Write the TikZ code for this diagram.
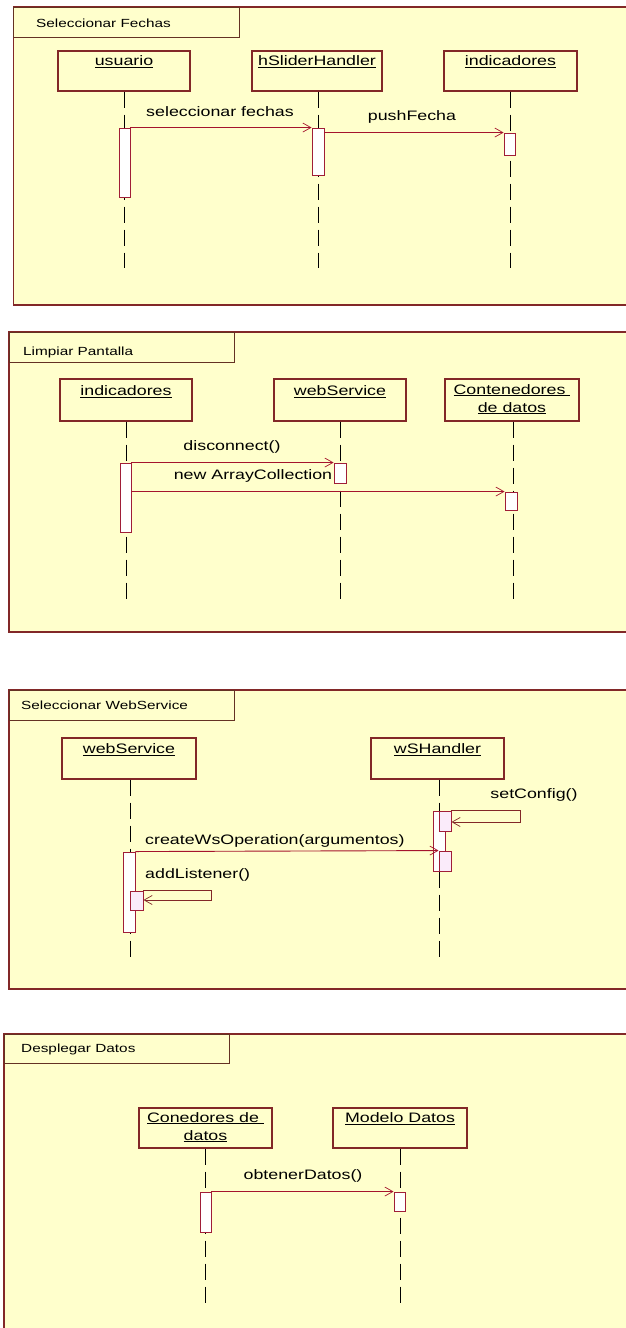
\documentclass[tikz,border=0pt]{standalone}
\usepackage{fontspec}
\setmainfont{Liberation Sans}
\usepackage{graphicx}
\usetikzlibrary{arrows.meta}
\definecolor{panelfill}{RGB}{255,255,204}
\definecolor{frm}{RGB}{130,40,40}
\definecolor{tabc}{RGB}{100,50,35}
\definecolor{msgc}{RGB}{165,20,45}
\definecolor{actc}{RGB}{160,30,55}
\newcommand{\stx}[1]{\scalebox{1.3}[1]{#1}}
\begin{document}
\begin{tikzpicture}[x=1pt,y=-1pt,
 panel/.style={draw=frm, line width=1.2pt, fill=panelfill},
 tabbox/.style={draw=tabc, line width=1pt},
 objbox/.style={draw=frm, line width=1.1pt, rectangle, inner sep=0pt, minimum height=41pt},
 objlbl/.style={font=\fontsize{13.7}{18}\selectfont, align=center, inner sep=0pt},
 ttl/.style={font=\fontsize{11.8}{14}\selectfont, anchor=west, inner sep=0pt},
 life/.style={draw=black, line width=1pt, dash pattern=on 16pt off 7pt},
 act/.style={draw=actc, fill=white, line width=0.9pt, rectangle, inner sep=0pt, minimum width=11pt},
 nact/.style={act, fill={rgb,255:red,250;green,235;blue,250}},
 msg/.style={draw=msgc, line width=0.9pt, -{Straight Barb[length=8pt,width=9pt,line width=0.7pt]}},
 selfmsg/.style={draw=frm, line width=0.9pt, -{Straight Barb[length=8pt,width=9pt,line width=0.7pt]}},
 mlbl/.style={font=\fontsize{13.7}{18}\selectfont, inner sep=0pt},
]
\clip (0,0) rectangle (626,1328);
\fill[white] (0,0) rectangle (626,1328);

% ================= Panel 1 =================
\draw[panel] (13.5,7) rectangle (632,305);
\draw[tabbox] (13.5,7) rectangle (239,37);
\node[ttl] (t1) at (36,23) {\stx{Seleccionar Fechas}};

\node[objbox, minimum width=132pt, minimum height=40pt] (p1u) at (124,71) {};
\node[objbox, minimum width=130pt, minimum height=40pt] (p1h) at (317,71) {};
\node[objbox, minimum width=133pt, minimum height=40pt] (p1i) at (510.5,71) {};
\node[objlbl] (p1ut) at (124,62) {\stx{\underline{usuario}}};
\node[objlbl] (p1ht) at (317,62) {\stx{\underline{hSliderHandler}}};
\node[objlbl] (p1it) at (510.5,62) {\stx{\underline{indicadores}}};

\coordinate (p1ue) at (124,268);
\coordinate (p1he) at (318,268);
\coordinate (p1ie) at (510,268);
\draw[life] (p1u.south -| p1ue) -- (p1ue);
\draw[life] (p1h.south -| p1he) -- (p1he);
\draw[life] (p1i.south -| p1ie) -- (p1ie);

\node[act, minimum height=69pt] (a1) at (124.5,162.5) {};
\node[act, minimum height=47pt, minimum width=12pt] (a2) at (318,151.5) {};
\node[act, minimum height=22pt] (a3) at (509.5,144) {};

\draw[msg] (a1.north east) -- (a2.north west);
\draw[msg] (a2.east |- a3.north) -- (a3.north west);
\node[mlbl] (m1) at (220,112) {\stx{seleccionar fechas}};
\node[mlbl] (m2) at (412,117) {\stx{pushFecha}};

% ================= Panel 2 =================
\draw[panel] (9,332) rectangle (632,632);
\draw[tabbox] (9,332) rectangle (234,362);
\node[ttl] (t2) at (23,352) {\stx{Limpiar Pantalla}};

\node[objbox, minimum width=132pt, minimum height=42pt] (p2i) at (126,400) {};
\node[objbox, minimum width=132pt, minimum height=42pt] (p2w) at (340,400) {};
\node[objbox, minimum width=134pt, minimum height=42pt] (p2c) at (512,400) {};
\node[objlbl] (p2it) at (126,392) {\stx{\underline{indicadores}}};
\node[objlbl] (p2wt) at (340,392) {\stx{\underline{webService}}};
\node[objlbl, anchor=north] (p2ct) at (512,384) {\stx{\underline{Contenedores\ }}\\\stx{\underline{de datos}}};

\coordinate (p2ie) at (126,602);
\coordinate (p2we) at (340,602);
\coordinate (p2ce) at (513,602);
\draw[life] (p2i.south -| p2ie) -- (p2ie);
\draw[life] (p2w.south -| p2we) -- (p2we);
\draw[life] (p2c.south -| p2ce) -- (p2ce);

\node[act, minimum height=69pt] (b1) at (125.5,497.5) {};
\node[act, minimum height=20pt, minimum width=12pt] (b2) at (340,473) {};
\node[act, minimum height=18pt, minimum width=12pt] (b3) at (511,501) {};

\draw[msg] (b1.north east) -- (b2.north west);
\draw[msg] (b1.east |- b3.north) -- (b3.north west);
\node[mlbl] (m3) at (232,447) {\stx{disconnect()}};
\node[mlbl] (m4) at (253,476) {\stx{new ArrayCollection}};

% ================= Panel 3 =================
\draw[panel] (9,690) rectangle (632,989);
\draw[tabbox] (9,690) rectangle (234,720);
\node[ttl] (t3) at (21,705) {\stx{Seleccionar WebService}};

\node[objbox, minimum width=134pt, minimum height=41pt] (p3w) at (129,758.5) {};
\node[objbox, minimum width=133pt, minimum height=41pt] (p3h) at (437.5,758.5) {};
\node[objlbl] (p3wt) at (129,750) {\stx{\underline{webService}}};
\node[objlbl] (p3ht) at (437.5,750) {\stx{\underline{wSHandler}}};

\coordinate (p3we) at (130,962);
\coordinate (p3he) at (439,962);
\draw[life] (p3w.south -| p3we) -- (p3we);
\draw[life] (p3h.south -| p3he) -- (p3he);

\node[act, minimum height=80pt, minimum width=12pt] (c1) at (129,892) {};
\node[nact, minimum height=19pt, minimum width=13pt] (c1n) at (136.5,900.5) {};
\node[act, minimum height=60pt, minimum width=12pt] (c2) at (439,841) {};
\node[nact, minimum height=20pt, minimum width=12pt] (c2a) at (445,821) {};
\node[nact, minimum height=20pt, minimum width=12pt] (c2b) at (445,861) {};

\coordinate (sl1) at (520,822);
\coordinate (sl2) at (211,900);
\draw[selfmsg] (c2a.north east) -- (sl1 |- c2a.north) -- (sl1) -- (c2a.east |- sl1);
\draw[selfmsg] (c1n.north east) -- (sl2 |- c1n.north) -- (sl2) -- (c1n.east |- sl2);
\draw[msg] (c1.north east) -- (c2b.north west);

\node[mlbl] (m5) at (534,795) {\stx{setConfig()}};
\node[mlbl, anchor=west] (m6) at (145,841) {\stx{createWsOperation(argumentos)}};
\node[mlbl, anchor=west] (m7) at (145,875) {\stx{addListener()}};

% ================= Panel 4 =================
\draw[panel] (4,1034) rectangle (632,1340);
\draw[tabbox] (4,1034) rectangle (229,1063);
\node[ttl] (t4) at (21,1049) {\stx{Desplegar Datos}};

\node[objbox, minimum width=133pt, minimum height=40pt] (p4c) at (205.5,1128) {};
\node[objbox, minimum width=134pt, minimum height=40pt] (p4m) at (400,1128) {};
\node[objlbl, anchor=north] (p4ct) at (205.5,1112) {\stx{\underline{Conedores de\ }}\\\stx{\underline{datos}}};
\node[objlbl] (p4mt) at (400,1119) {\stx{\underline{Modelo Datos}}};

\coordinate (p4ce) at (205,1305);
\coordinate (p4me) at (400,1305);
\draw[life] (p4c.south -| p4ce) -- (p4ce);
\draw[life] (p4m.south -| p4me) -- (p4me);

\node[act, minimum height=40pt] (d1) at (205.5,1212) {};
\node[act, minimum height=19pt] (d2) at (399.5,1201.5) {};

\draw[msg] (d1.north east) -- (d2.north west);
\node[mlbl] (m8) at (303,1176) {\stx{obtenerDatos()}};
\end{tikzpicture}
\end{document}
